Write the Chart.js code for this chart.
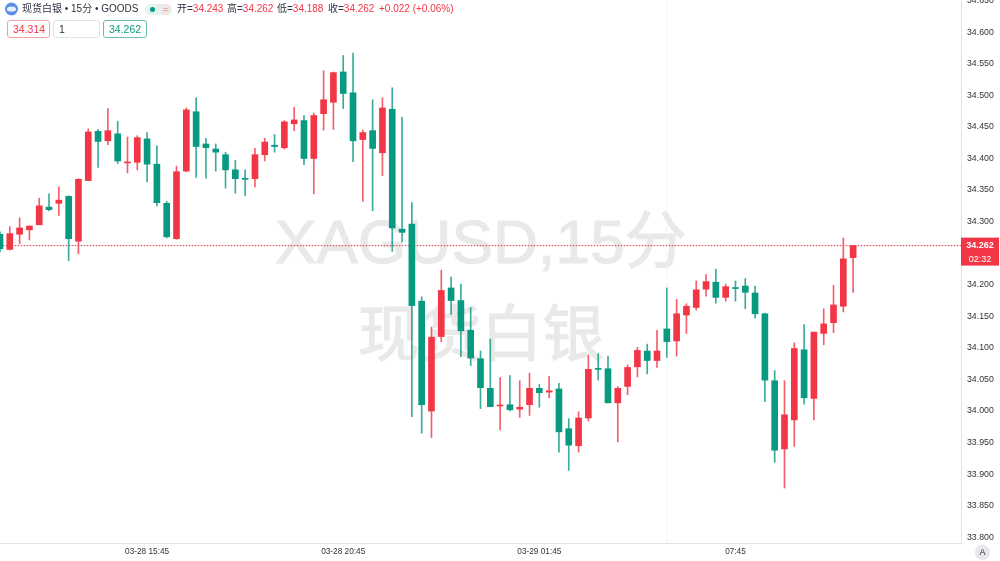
<!DOCTYPE html>
<html lang="zh">
<head>
<meta charset="utf-8">
<title>XAGUSD 15分</title>
<script src="https://cdn.jsdelivr.net/npm/chart.js@4/dist/chart.umd.js"></script>
<style>
html,body{margin:0;padding:0;background:#fff;width:1000px;height:561px;overflow:hidden;font-family:"Liberation Sans","Noto Sans CJK SC",sans-serif}
#wrap{position:relative;width:1000px;height:561px;overflow:hidden}
canvas{position:absolute;left:0;top:0}
.wm{position:absolute;color:#e9e9e9;-webkit-text-stroke:1.2px #e9e9e9;white-space:nowrap;line-height:1;font-family:"Liberation Sans","Noto Sans CJK SC",sans-serif}
.t{position:absolute;white-space:nowrap;font-size:10px;line-height:12px;color:#2f3340}
.r{color:#f23645}
.box{position:absolute;box-sizing:border-box;top:20px;height:18px;border-radius:3px;border:1px solid;font-size:10.5px;line-height:16px;background:#fff;padding-left:5px}
</style>
</head>
<body>
<div id="wrap">
<div class="wm" style="left:275px;top:211px;font-size:62px;letter-spacing:0.2px">XAGUSD,15分</div>
<div class="wm" style="left:358px;top:304px;font-size:61.5px">现货白银</div>
<canvas id="c" width="1000" height="561"></canvas>
<svg style="position:absolute;left:5px;top:2px" width="13" height="14" viewBox="0 0 13 14"><circle cx="6.5" cy="7" r="6.5" fill="#5b8fe0"/><ellipse cx="6.5" cy="7" rx="4.6" ry="2.6" fill="#e6effc"/></svg>
<div class="t" style="left:22px;top:3px">现货白银 • 15分 • GOODS</div>
<div style="position:absolute;left:145px;top:4px;width:27px;height:11px;border-radius:6px;background:#e6f2f0"></div>
<div style="position:absolute;left:149.5px;top:7px;width:5px;height:5px;border-radius:50%;background:#089981"></div>
<div style="position:absolute;left:161px;top:4px;width:9px;height:11px;border-radius:2px;background:#f3e6e2"></div>
<div class="t" style="left:163px;top:3px;font-size:9px;color:#d08a80">=</div>
<div class="t" style="left:177px;top:3px">开=<span class="r">34.243</span></div>
<div class="t" style="left:227px;top:3px">高=<span class="r">34.262</span></div>
<div class="t" style="left:277px;top:3px">低=<span class="r">34.188</span></div>
<div class="t" style="left:328px;top:3px">收=<span class="r">34.262</span></div>
<div class="t r" style="left:379px;top:3px">+0.022 (+0.06%)</div>
<div class="box" style="left:7px;width:43px;border-color:#f0a0a8;color:#f23645">34.314</div>
<div class="box" style="left:53px;width:47px;border-color:#e0e3eb;color:#2f3340">1</div>
<div class="box" style="left:103px;width:44px;border-color:#6cbcae;color:#089981">34.262</div>
<div style="position:absolute;left:975px;top:545px;width:15px;height:15px;border-radius:50%;background:#e6e8ee;color:#333;font-size:9px;line-height:15px;text-align:center">A</div>
</div>
<script>
const opens = [34.280,34.256,34.280,34.287,34.295,34.323,34.329,34.340,34.269,34.365,34.443,34.428,34.439,34.393,34.394,34.431,34.391,34.329,34.273,34.380,34.474,34.423,34.415,34.406,34.382,34.368,34.368,34.406,34.421,34.417,34.455,34.460,34.400,34.471,34.489,34.537,34.504,34.430,34.444,34.409,34.478,34.288,34.296,34.174,34.000,34.118,34.195,34.175,34.128,34.083,34.036,34.008,34.010,34.003,34.010,34.036,34.030,34.035,33.972,33.945,33.989,34.067,34.067,34.013,34.039,34.070,34.095,34.080,34.130,34.111,34.152,34.164,34.193,34.204,34.180,34.195,34.198,34.187,34.154,34.048,33.940,33.986,34.097,34.020,34.123,34.140,34.166,34.243];
const closes = [34.257,34.281,34.290,34.293,34.325,34.319,34.334,34.273,34.367,34.442,34.427,34.444,34.396,34.394,34.433,34.391,34.330,34.276,34.379,34.477,34.419,34.417,34.410,34.382,34.368,34.367,34.406,34.426,34.419,34.458,34.461,34.400,34.468,34.493,34.536,34.503,34.428,34.441,34.416,34.480,34.290,34.283,34.167,34.010,34.117,34.191,34.175,34.127,34.084,34.037,34.007,34.009,34.002,34.006,34.036,34.029,34.032,33.967,33.946,33.989,34.066,34.066,34.013,34.036,34.069,34.096,34.080,34.095,34.110,34.154,34.166,34.192,34.205,34.180,34.197,34.194,34.188,34.154,34.049,33.938,33.994,34.099,34.021,34.125,34.138,34.168,34.241,34.262];
const highs = [34.284,34.292,34.306,34.293,34.337,34.344,34.355,34.341,34.368,34.447,34.446,34.479,34.459,34.434,34.436,34.441,34.420,34.332,34.388,34.480,34.496,34.432,34.423,34.410,34.397,34.382,34.416,34.432,34.438,34.460,34.481,34.468,34.472,34.539,34.537,34.563,34.567,34.445,34.493,34.496,34.512,34.465,34.330,34.181,34.133,34.223,34.212,34.201,34.164,34.095,34.114,34.053,34.056,34.048,34.060,34.042,34.055,34.044,33.988,33.999,34.089,34.091,34.087,34.039,34.073,34.101,34.106,34.128,34.195,34.177,34.170,34.206,34.216,34.225,34.201,34.206,34.210,34.198,34.155,34.064,34.048,34.108,34.137,34.125,34.162,34.199,34.274,34.262];
const lows = [34.252,34.255,34.265,34.271,34.295,34.317,34.310,34.238,34.249,34.365,34.386,34.422,34.392,34.377,34.382,34.363,34.325,34.274,34.272,34.379,34.370,34.369,34.380,34.353,34.345,34.341,34.355,34.396,34.410,34.415,34.444,34.390,34.344,34.445,34.446,34.479,34.395,34.332,34.317,34.373,34.253,34.268,33.991,33.965,33.958,34.110,34.153,34.086,34.072,34.004,34.007,33.970,34.000,33.990,33.993,34.006,34.021,33.935,33.906,33.935,33.984,34.049,34.013,33.951,34.026,34.054,34.059,34.069,34.085,34.087,34.123,34.160,34.182,34.171,34.174,34.174,34.162,34.147,34.015,33.919,33.878,33.944,34.011,33.986,34.105,34.124,34.157,34.188];
const yTicks = [33.80,33.85,33.90,33.95,34.00,34.05,34.10,34.15,34.20,34.30,34.35,34.40,34.45,34.50,34.55,34.60,34.65];
const yTickLabels = ["33.800","33.850","33.900","33.950","34.000","34.050","34.100","34.150","34.200","34.300","34.350","34.400","34.450","34.500","34.550","34.600","34.650"];
const xTickIndex = [15,35,55,75];
const xTickLabels = ["03-28 15:45","03-28 20:45","03-29 01:45","07:45"];
const lastPrice = 34.262;
const countdown = "02:32";
const dayBreakIndex = 68;

const RED = "#f23645", GREEN = "#089981";
const RED_WICK = "rgba(242,54,69,0.8)", GREEN_WICK = "rgba(8,153,129,0.8)";
const up = i => closes[i] >= opens[i];
const colorOf = ctx => up(ctx.dataIndex) ? RED : GREEN;
const wickOf = ctx => up(ctx.dataIndex) ? RED_WICK : GREEN_WICK;
const xMin = 0, xMax = 98, yMin = 33.791, yMax = 34.651;

const badge = {
  id: "badge",
  afterDraw(chart) {
    const g = chart.ctx, y = chart.scales.y.getPixelForValue(lastPrice), l = chart.chartArea.right;
    g.save();
    g.fillStyle = RED;
    g.fillRect(l, y - 8, 38, 28);
    g.fillStyle = "#fff";
    g.textAlign = "center"; g.textBaseline = "middle";
    g.font = 'bold 9px "Liberation Sans"';
    g.fillText(lastPrice.toFixed(3), l + 19, y);
    g.font = '9px "Liberation Sans"';
    g.fillText(countdown, l + 19, y + 14);
    g.restore();
  }
};

new Chart(document.getElementById("c"), {
  data: {
    datasets: [
      { type: "bar", label: "body", grouped: false, barThickness: 6, minBarLength: 1,
        backgroundColor: colorOf,
        data: opens.map((o, i) => ({ x: i, y: [o, closes[i]] })) },
      { type: "bar", label: "wick", grouped: false, barThickness: 1,
        backgroundColor: wickOf,
        data: lows.map((l, i) => ({ x: i, y: [l, highs[i]] })) },
      { type: "line", label: "last dots", borderColor: "rgba(220,40,60,0.9)", borderWidth: 1, borderDash: [1, 2], pointRadius: 0,
        data: [{ x: xMin, y: lastPrice }, { x: xMax, y: lastPrice }] },
      { type: "line", label: "last", borderColor: "rgba(242,54,69,0.25)", borderWidth: 1, pointRadius: 0,
        data: [{ x: xMin, y: lastPrice }, { x: xMax, y: lastPrice }] },
      { type: "line", label: "break", borderColor: "#eeeeee", borderWidth: 1, borderDash: [4, 4], pointRadius: 0,
        data: [{ x: dayBreakIndex, y: yMin }, { x: dayBreakIndex, y: yMax }] }
    ]
  },
  options: {
    responsive: false, animation: false,
    layout: { padding: 0, autoPadding: false },
    plugins: { legend: { display: false }, tooltip: { enabled: false } },
    events: [],
    scales: {
      x: {
        type: "linear", min: xMin, max: xMax, offset: false,
        grid: { display: false, drawTicks: false, tickLength: 0 },
        border: { display: true, color: "#e0e3eb" },
        afterFit(s) { s.height = 18; s.paddingLeft = 0; s.paddingRight = 0; s.paddingTop = 0; s.paddingBottom = 0; },
        afterBuildTicks(s) { s.ticks = xTickIndex.map(v => ({ value: v })); },
        ticks: {
          autoSkip: false, maxRotation: 0, padding: 4,
          color: "#333", font: { size: 8.25, family: '"Liberation Sans"' },
          callback: v => xTickLabels[xTickIndex.indexOf(v)]
        }
      },
      y: {
        type: "linear", position: "right", min: yMin, max: yMax,
        grid: { display: false, drawTicks: false, tickLength: 0 },
        border: { display: true, color: "#e0e3eb" },
        afterFit(s) { s.width = 39; s.paddingLeft = 0; s.paddingRight = 0; s.paddingTop = 0; s.paddingBottom = 0; },
        afterBuildTicks(s) { s.ticks = yTicks.map(v => ({ value: v })); },
        ticks: {
          autoSkip: false, padding: 6,
          color: "#333", font: { size: 8.75, family: '"Liberation Sans"' },
          callback: v => yTickLabels[yTicks.indexOf(v)]
        }
      }
    }
  },
  plugins: [badge]
});
</script>
</body>
</html>
